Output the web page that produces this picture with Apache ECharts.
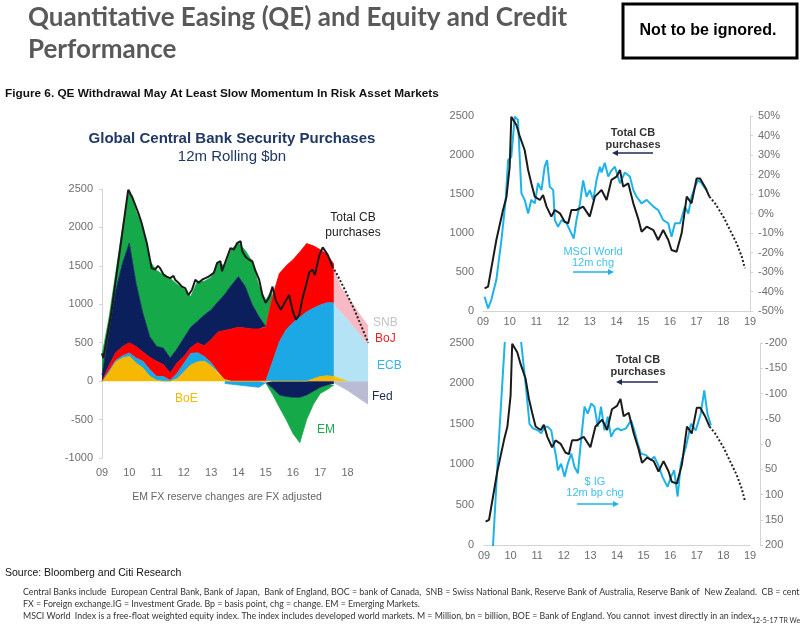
<!DOCTYPE html>
<html>
<head>
<meta charset="utf-8">
<title>QE and Equity and Credit Performance</title>
<script src="https://cdn.jsdelivr.net/npm/echarts@6/dist/echarts.min.js"></script>
<style>
  html, body { margin: 0; padding: 0; background: #fff; }
  #main { width: 800px; height: 626px; }
</style>
</head>
<body>
<div id="main"></div>
<script>
// ---- left panel: quarterly stack, $bn 12m rolling ----
const quarters = [
  '09Q1','09Q2','09Q3','09Q4','10Q1','10Q2','10Q3','10Q4','11Q1','11Q2',
  '11Q3','11Q4','12Q1','12Q2','12Q3','12Q4','13Q1','13Q2','13Q3','13Q4',
  '14Q1','14Q2','14Q3','14Q4','15Q1','15Q2','15Q3','15Q4','16Q1','16Q2',
  '16Q3','16Q4','17Q1','17Q2','17Q3','17Q4','18Q1','18Q2','18Q3','18Q4'
];
const boe    = [0,110,250,300,323,236,170,63,10,0, 0,30,120,210,250,260,200,100,20,0, 0,0,0,0,0,0,0,0,0,0, 0,30,60,70,60,'-','-','-','-','-'];
const ecbPos = [0,20,20,30,44,64,90,90,53,60, 10,70,110,150,120,60,40,20,'-','-', '-','-','-','-',0,250,510,670,760,830, 900,920,930,950,960,'-','-','-','-','-'];
const ecbNeg = ['-','-','-','-','-','-','-','-','-','-', '-','-','-','-','-','-','-','-',-30,-40, -50,-60,-70,-80,-20,'-','-','-','-','-', '-','-','-','-','-','-','-','-','-','-'];
const boj    = [0,70,100,120,131,150,120,157,195,155, 96,136,90,75,130,140,300,520,640,680, 700,690,680,680,700,850,890,830,820,850, 890,810,720,630,500,'-','-','-','-','-'];
const fedPos = [80,420,800,1080,1299,820,500,270,195,215, 194,184,240,265,280,400,390,390,470,570, 660,540,320,160,10,'-','-','-','-','-', '-','-','-','-','-','-','-','-','-','-'];
const fedNeg = ['-','-','-','-','-','-','-','-','-','-', '-','-','-','-','-','-','-','-','-','-', '-','-','-','-',0,-90,-180,-200,-210,-210, -180,-130,-80,-50,-30,'-','-','-','-','-'];
const emPos  = [260,190,230,460,693,940,1100,980,990,950, 1040,840,640,400,520,440,420,510,370,470, 440,470,560,400,340,100,'-','-','-','-', '-','-','-','-','-','-','-','-','-','-'];
const emNeg  = ['-','-','-','-','-','-','-','-','-','-', '-','-','-','-','-','-','-','-','-','-', '-','-','-','-',0,-80,-160,-300,-470,-590, -320,-170,-80,-60,-20,'-','-','-','-','-'];
// projections (2017Q3 onwards)
const boeProj = ['-','-','-','-','-','-','-','-','-','-', '-','-','-','-','-','-','-','-','-','-', '-','-','-','-','-','-','-','-','-','-', '-','-','-','-',60,30,0,'-','-','-'];
const ecbProj = ['-','-','-','-','-','-','-','-','-','-', '-','-','-','-','-','-','-','-','-','-', '-','-','-','-','-','-','-','-','-','-', '-','-','-','-',940,870,800,690,580,470];
const bojProj = ['-','-','-','-','-','-','-','-','-','-', '-','-','-','-','-','-','-','-','-','-', '-','-','-','-','-','-','-','-','-','-', '-','-','-','-',460,320,300,280,260,250];
const fedProj = ['-','-','-','-','-','-','-','-','-','-', '-','-','-','-','-','-','-','-','-','-', '-','-','-','-','-','-','-','-','-','-', '-','-','-','-',-20,-70,-120,-180,-240,-300];

// total CB purchases as drawn on the left panel [year, $bn]
const leftTotal = [
  [2009.0,360],[2009.05,300],[2009.34,890],[2009.96,2490],[2010.1,2400],[2010.33,2190],
  [2010.45,2060],[2010.64,1800],[2010.76,1580],[2010.82,1470],[2010.94,1450],[2011.05,1500],
  [2011.13,1470],[2011.25,1390],[2011.37,1360],[2011.5,1340],[2011.62,1370],[2011.68,1320],
  [2011.8,1280],[2011.93,1230],[2012.05,1210],[2012.17,1120],[2012.3,1190],[2012.42,1320],
  [2012.54,1280],[2012.67,1320],[2012.91,1360],[2013.1,1410],[2013.22,1540],[2013.34,1560],
  [2013.4,1430],[2013.53,1560],[2013.71,1730],[2013.83,1710],[2013.96,1800],[2014.08,1820],
  [2014.14,1690],[2014.26,1620],[2014.39,1580],[2014.51,1560],[2014.63,1430],[2014.76,1320],
  [2014.88,1120],[2015.0,1020],[2015.13,1090],[2015.25,1230],[2015.37,1050],[2015.56,930],
  [2015.68,1010],[2015.86,1120],[2016.0,900],[2016.11,800],[2016.23,860],[2016.35,1080],
  [2016.48,1250],[2016.6,1420],[2016.72,1450],[2016.8,1380],[2016.97,1640],[2017.09,1740],
  [2017.15,1740],[2017.28,1640],[2017.44,1494]
];
const leftTotalProj = [[2017.44,1494],[2017.6,1400],[2017.9,1190],[2018.25,930],[2018.76,500]];

// ---- right panels ----
const cbTotal = [
  [2009.06,290],[2009.19,312],[2009.5,910],[2009.75,1295],[2009.88,1466],[2010.0,1850],
  [2010.06,2490],[2010.25,2385],[2010.38,2235],[2010.56,2064],[2010.69,1808],[2010.81,1637],
  [2010.94,1466],[2011.13,1423],[2011.25,1487],[2011.38,1338],[2011.56,1210],[2011.69,1295],
  [2011.88,1252],[2012.06,1145],[2012.19,1124],[2012.31,1295],[2012.5,1295],[2012.75,1338],
  [2013.0,1210],[2013.19,1466],[2013.44,1551],[2013.63,1423],[2013.81,1680],[2014.0,1722],
  [2014.13,1808],[2014.25,1594],[2014.44,1637],[2014.63,1380],[2014.81,1188],[2014.94,1017],
  [2015.13,1081],[2015.38,1038],[2015.56,910],[2015.75,1038],[2015.94,910],[2016.06,782],
  [2016.25,760],[2016.44,996],[2016.63,1466],[2016.81,1380],[2017.0,1700],[2017.13,1700],
  [2017.31,1594],[2017.48,1466]
];
const cbProj = [[2017.48,1466],[2017.69,1380],[2018.0,1210],[2018.25,1038],[2018.5,868],[2018.69,697],[2018.81,547]];

// MSCI World 12m change, %
const msciChg = [
  [2009.06,-42.7],[2009.19,-48.7],[2009.31,-44.4],[2009.5,-34],[2009.69,-13.6],[2009.85,7],
  [2009.94,27.4],[2010.06,29],[2010.19,49.7],[2010.31,48],[2010.38,27.4],[2010.44,10.3],
  [2010.56,7],[2010.69,0],[2010.81,7],[2010.94,5.2],[2011.06,15.5],[2011.19,12],[2011.31,24],
  [2011.4,27.4],[2011.5,13.7],[2011.63,12],[2011.69,-3.4],[2011.81,-6.8],[2011.94,-3.4],
  [2012.13,-5],[2012.31,-10.2],[2012.4,-12.8],[2012.5,-3.4],[2012.63,5],[2012.75,17],
  [2012.88,8.6],[2013.0,12],[2013.13,7],[2013.25,17],[2013.38,24],[2013.44,21],[2013.56,26],
  [2013.69,19],[2013.81,22],[2013.94,24],[2014.13,15.5],[2014.31,21],[2014.5,19],[2014.63,12],
  [2014.75,8.6],[2014.94,5.2],[2015.13,7],[2015.38,3.5],[2015.56,1.8],[2015.75,-3.4],
  [2015.94,-5],[2016.06,-11.9],[2016.19,-5],[2016.38,-5],[2016.56,3.5],[2016.69,0],
  [2016.81,8.6],[2016.94,13.7],[2017.06,17],[2017.19,15.5],[2017.31,13],[2017.4,12]
];

// $ IG 12m change, bp (axis inverted)
const igChg = [
  [2009.1,400],[2009.2,350],[2009.34,200],[2009.55,0],[2009.78,-200],[2010.0,-320],[2010.2,-300],
  [2010.4,-200],[2010.59,-106],[2010.71,-40],[2010.84,-31],[2011.03,-27],[2011.15,-21],
  [2011.28,-34],[2011.4,-34],[2011.53,-27],[2011.59,-8],[2011.71,25],[2011.78,52],[2011.9,39],
  [2012.03,65],[2012.15,39],[2012.28,19],[2012.4,45],[2012.53,58],[2012.65,-8],[2012.78,-74],
  [2012.9,-60],[2013.03,-80],[2013.15,-74],[2013.28,-34],[2013.4,-74],[2013.53,-27],[2013.65,-54],
  [2013.78,-14],[2013.9,-27],[2014.03,-31],[2014.15,-27],[2014.34,-31],[2014.53,-47],[2014.65,-27],
  [2014.78,-1],[2014.9,19],[2015.09,22],[2015.28,32],[2015.4,25],[2015.53,39],[2015.71,65],
  [2015.9,85],[2016.03,65],[2016.15,52],[2016.28,104],[2016.4,39],[2016.59,6],[2016.78,-40],
  [2016.96,-27],[2017.15,-60],[2017.28,-106],[2017.4,-60],[2017.53,-37]
];

const leftTicks = [-1000, 2500, 500];
const pctTicks = [-50, 50, 10];
const bpTicks = [-200, 200, 50];

const FONT = '"Liberation Sans", Arial, sans-serif';
const BLACK = '#1b1b1b';
const CYAN = '#1db3e8';

const chart = echarts.init(document.getElementById('main'), null, { renderer: 'canvas' });

function area(name, data, color, stack) {
  return {
    name: name, type: 'line', xAxisIndex: 0, yAxisIndex: 0,
    stack: stack, stackStrategy: 'samesign', data: data,
    symbol: 'none', silent: true,
    lineStyle: { width: 0.8, color: color },
    itemStyle: { color: color },
    areaStyle: { color: color, opacity: 1 }
  };
}

function txt(x, y, text, font, fill, align) {
  return {
    type: 'text', x: x, y: y, silent: true,
    style: { text: text, font: font, fill: fill, align: align || 'left', verticalAlign: 'middle' }
  };
}

function arrow(x1, x2, y, color) {
  const dir = x2 > x1 ? 1 : -1;
  return [
    { type: 'line', silent: true, shape: { x1: x1, y1: y, x2: x2 - dir * 5, y2: y }, style: { stroke: color, lineWidth: 1.5 } },
    { type: 'polygon', silent: true, shape: { points: [[x2, y], [x2 - dir * 6, y - 3], [x2 - dir * 6, y + 3]] }, style: { fill: color } }
  ];
}

const plain = (v) => String(v);
const grayLabel = { color: '#6e6e6e', fontSize: 11, fontFamily: FONT };
const lightLine = { show: true, lineStyle: { color: '#d4d4d4', width: 1 } };

const yearAxis = (gridIndex) => ({
  type: 'value', gridIndex: gridIndex, min: 2009, max: 2019, interval: 1,
  axisLine: lightLine, axisTick: { show: false }, splitLine: { show: false },
  axisLabel: Object.assign({}, grayLabel, { margin: 5, formatter: (v) => String(v).slice(2) })
});

const option = {
  animation: false,
  backgroundColor: '#fff',
  grid: [
    { left: 102, top: 189, width: 266, height: 269 },
    { left: 483, top: 116, width: 267, height: 195 },
    { left: 484, top: 343, width: 266, height: 202 }
  ],
  xAxis: [
    {
      type: 'category', gridIndex: 0, data: quarters, boundaryGap: false,
      axisLine: { show: false }, axisTick: { show: false }, splitLine: { show: false },
      axisLabel: Object.assign({}, grayLabel, { interval: 3, margin: 9, formatter: (v) => v.slice(0, 2) })
    },
    { type: 'value', gridIndex: 0, min: 2009, max: 2018.75, show: false },
    yearAxis(1),
    yearAxis(2)
  ],
  yAxis: [
    {
      type: 'value', gridIndex: 0, min: leftTicks[0], max: leftTicks[1], interval: leftTicks[2],
      axisLine: lightLine, axisTick: { show: true, length: 3, lineStyle: { color: '#d4d4d4' } },
      splitLine: { show: false }, axisLabel: Object.assign({}, grayLabel, { margin: 9, formatter: plain })
    },
    {
      type: 'value', gridIndex: 1, min: 0, max: 2500, interval: 500,
      axisLine: { show: false }, axisTick: { show: false }, splitLine: { show: false },
      axisLabel: Object.assign({}, grayLabel, { margin: 9, formatter: plain })
    },
    {
      type: 'value', gridIndex: 1, position: 'right', min: pctTicks[0], max: pctTicks[1], interval: pctTicks[2],
      axisLine: lightLine, axisTick: { show: true, length: 3, lineStyle: { color: '#d4d4d4' } },
      splitLine: { show: false }, axisLabel: Object.assign({}, grayLabel, { margin: 8, formatter: '{value}%' })
    },
    {
      type: 'value', gridIndex: 2, min: 0, max: 2500, interval: 500,
      axisLine: { show: false }, axisTick: { show: false }, splitLine: { show: false },
      axisLabel: Object.assign({}, grayLabel, { margin: 10, formatter: plain })
    },
    {
      type: 'value', gridIndex: 2, position: 'right', offset: 10, inverse: true,
      min: bpTicks[0], max: bpTicks[1], interval: bpTicks[2],
      axisLine: lightLine, axisTick: { show: true, length: 3, lineStyle: { color: '#d4d4d4' } },
      splitLine: { show: false }, axisLabel: Object.assign({}, grayLabel, { margin: 5, formatter: plain })
    }
  ],
  series: [
    area('BoE', boe, '#f6b800', 'cb'),
    area('ECB', ecbPos, '#1ba8e4', 'cb'),
    area('BoJ', boj, '#fe0000', 'cb'),
    area('Fed', fedPos, '#0b1f5c', 'cb'),
    area('EM', emPos, '#16a94a', 'cb'),
    area('ECB-', ecbNeg, '#1ba8e4', 'cb'),
    area('Fed-', fedNeg, '#0b1f5c', 'cb'),
    area('EM-', emNeg, '#16a94a', 'cb'),
    area('BoE proj', boeProj, '#f6c400', 'proj'),
    area('ECB proj', ecbProj, '#b4e3f5', 'proj'),
    area('BoJ proj', bojProj, '#f7b9c3', 'proj'),
    area('Fed proj', fedProj, '#b8bdd4', 'proj'),
    {
      name: 'Total CB purchases', type: 'line', xAxisIndex: 1, yAxisIndex: 0, data: leftTotal,
      symbol: 'none', lineStyle: { color: BLACK, width: 2 }
    },
    {
      name: 'Total CB projection', type: 'line', xAxisIndex: 1, yAxisIndex: 0, data: leftTotalProj,
      symbol: 'none', lineStyle: { color: '#222', width: 2, type: [2, 2] }
    },
    // top right
    {
      name: 'MSCI World 12m chg', type: 'line', xAxisIndex: 2, yAxisIndex: 2, data: msciChg,
      symbol: 'none', lineStyle: { color: CYAN, width: 2 }
    },
    {
      name: 'Total CB (top)', type: 'line', xAxisIndex: 2, yAxisIndex: 1, data: cbTotal,
      symbol: 'none', lineStyle: { color: BLACK, width: 2 }
    },
    {
      name: 'Total CB proj (top)', type: 'line', xAxisIndex: 2, yAxisIndex: 1, data: cbProj,
      symbol: 'none', lineStyle: { color: '#222', width: 2, type: [2, 2] }
    },
    // bottom right
    {
      name: '$ IG 12m bp chg', type: 'line', xAxisIndex: 3, yAxisIndex: 4, data: igChg,
      symbol: 'none', lineStyle: { color: CYAN, width: 2 }
    },
    {
      name: 'Total CB (bottom)', type: 'line', xAxisIndex: 3, yAxisIndex: 3, data: cbTotal,
      symbol: 'none', lineStyle: { color: BLACK, width: 2 }
    },
    {
      name: 'Total CB proj (bottom)', type: 'line', xAxisIndex: 3, yAxisIndex: 3, data: cbProj,
      symbol: 'none', lineStyle: { color: '#222', width: 2, type: [2, 2] }
    }
  ],
  graphic: [
    txt(28, 18, 'Quantitative Easing (QE) and Equity and Credit', 'bold 26px Lato, sans-serif', '#595959'),
    txt(28, 50, 'Performance', 'bold 26px Lato, sans-serif', '#595959'),
    { type: 'rect', silent: true, shape: { x: 623, y: 4, width: 174, height: 54 }, style: { fill: '#fff', stroke: '#000', lineWidth: 3 } },
    txt(708, 31, 'Not to be ignored.', 'bold 16px ' + FONT, '#000', 'center'),
    txt(5, 94, 'Figure 6. QE Withdrawal May At Least Slow Momentum In Risk Asset Markets', 'bold 11.8px ' + FONT, '#111'),

    txt(232, 139, 'Global Central Bank Security Purchases', 'bold 15px ' + FONT, '#1f3864', 'center'),
    txt(232, 157, '12m Rolling $bn', '15px ' + FONT, '#1f3864', 'center'),
    txt(353, 218, 'Total CB', '12px ' + FONT, '#222', 'center'),
    txt(353, 233, 'purchases', '12px ' + FONT, '#222', 'center'),
    txt(373, 323, 'SNB', '12px ' + FONT, '#c4c4c4'),
    txt(375, 339, 'BoJ', '12px ' + FONT, '#ee2024'),
    txt(377, 366, 'ECB', '12px ' + FONT, '#38b3e6'),
    txt(372, 397, 'Fed', '12px ' + FONT, '#1f2a55'),
    txt(175, 399, 'BoE', '12px ' + FONT, '#f5b800'),
    txt(317, 430, 'EM', '12px ' + FONT, '#1aab4f'),
    txt(227, 497, 'EM FX reserve changes are FX adjusted', '10.5px ' + FONT, '#666', 'center'),

    txt(633, 133, 'Total CB', 'bold 11px ' + FONT, '#333', 'center'),
    txt(633, 145, 'purchases', 'bold 11px ' + FONT, '#333', 'center'),
    ...arrow(653, 612, 153, '#1f2a55'),
    txt(593, 252, 'MSCI World', '11px ' + FONT, '#3ec1ec', 'center'),
    txt(593, 263, '12m chg', '11px ' + FONT, '#3ec1ec', 'center'),
    ...arrow(573, 614, 272, CYAN),

    txt(638, 360, 'Total CB', 'bold 11px ' + FONT, '#333', 'center'),
    txt(638, 372, 'purchases', 'bold 11px ' + FONT, '#333', 'center'),
    ...arrow(658, 616, 382, '#1f2a55'),
    txt(595, 482, '$ IG', '11px ' + FONT, '#3ec1ec', 'center'),
    txt(595, 493, '12m bp chg', '11px ' + FONT, '#3ec1ec', 'center'),
    ...arrow(577, 619, 504, CYAN),

    txt(5, 573, 'Source: Bloomberg and Citi Research', '10.5px ' + FONT, '#111'),
    txt(23, 592, 'Central Banks include  European Central Bank, Bank of Japan,  Bank of England, BOC = bank of Canada,  SNB = Swiss National Bank, Reserve Bank of Australia, Reserve Bank of  New Zealand.  CB = central bank.', '8.8px Lato, sans-serif', '#333'),
    txt(23, 604, 'FX = Foreign exchange.IG = Investment Grade. Bp = basis point, chg = change. EM = Emerging Markets.', '8.8px Lato, sans-serif', '#333'),
    txt(23, 616, 'MSCI World  Index is a free-float weighted equity index. The index includes developed world markets. M = Million, bn = billion, BOE = Bank of England. You cannot  invest directly in an index.', '8.8px Lato, sans-serif', '#333'),
    txt(752, 621, '12-5-17 TR We', '7px Lato, sans-serif', '#333')
  ]
};

chart.setOption(option);
</script>
</body>
</html>
